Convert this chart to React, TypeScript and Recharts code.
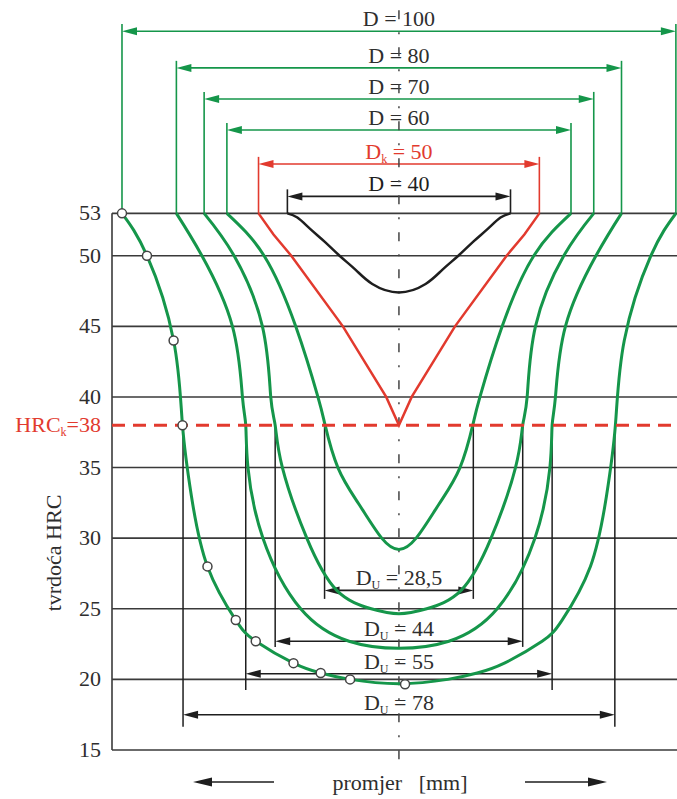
import React from "react";
import {
  ComposedChart,
  Line,
  Scatter,
  XAxis,
  YAxis,
  ReferenceLine,
} from "recharts";

// x = udaljenost od osi [mm], y = tvrdoća HRC
const curveD100: [number, number][] = [
  [-49.9, 53], [-45.4, 50], [-40.6, 44], [-39.0, 38], [-37.4, 33], [-34.5, 28],
  [-29.4, 24.2], [-25.8, 22.7], [-19.0, 21.15], [-14.1, 20.45], [-8.8, 20.0], [0, 19.7],
  [8.8, 20.0], [14.1, 20.45], [19.0, 21.15], [25.8, 22.7], [29.4, 24.2],
  [34.5, 28], [37.4, 33], [39.0, 38], [40.6, 44], [45.4, 50], [49.9, 53],
];
const curveD80: [number, number][] = [
  [-40.1, 53], [-35.5, 50], [-30.0, 45], [-28.2, 40], [-27.6, 38], [-27.2, 35],
  [-24.5, 30], [-17.7, 25], [-9.0, 22.7], [0, 22.2],
  [9.0, 22.7], [17.7, 25], [24.5, 30], [27.2, 35], [27.6, 38], [28.2, 40],
  [30.0, 45], [35.5, 50], [40.1, 53],
];
const curveD70: [number, number][] = [
  [-35.1, 53], [-29.7, 50], [-24.6, 45], [-23.1, 40], [-22.3, 38], [-21.0, 35],
  [-16.6, 30], [-11.2, 26.3], [-5.0, 25], [0, 24.65],
  [5.0, 25], [11.2, 26.3], [16.6, 30], [21.0, 35], [22.3, 38], [23.1, 40],
  [24.6, 45], [29.7, 50], [35.1, 53],
];
const curveD60: [number, number][] = [
  [-31.0, 53], [-24.3, 50], [-18.6, 45], [-14.6, 40], [-13.3, 38], [-11.0, 35],
  [-7.2, 32.4], [-3.1, 30], [0, 29.2],
  [3.1, 30], [7.2, 32.4], [11.0, 35], [13.3, 38], [14.6, 40], [18.6, 45],
  [24.3, 50], [31.0, 53],
];
const curveD50: [number, number][] = [
  [-25.3, 53], [-22.6, 51.5], [-19.4, 50], [-10.1, 45], [-2.3, 40], [0, 38],
  [2.3, 40], [10.1, 45], [19.4, 50], [22.6, 51.5], [25.3, 53],
];
const curveD40: [number, number][] = [
  [-20.1, 53], [-18.3, 52.7], [-16.0, 51.9], [-13.4, 51.0], [-10.7, 50], [-7.8, 49.0],
  [-4.8, 48.0], [0, 47.4],
  [4.8, 48.0], [7.8, 49.0], [10.7, 50], [13.4, 51.0], [16.0, 51.9], [18.3, 52.7], [20.1, 53],
];
// izmjerene točke (D = 100)
const measured: [number, number][] = [
  [-49.9, 53], [-45.4, 50], [-40.6, 44], [-39.0, 38], [-34.5, 28], [-29.4, 24.2],
  [-25.8, 22.7], [-19.0, 21.15], [-14.1, 20.45], [-8.8, 20.0], [1.1, 19.65],
];

const diameters = ["100", "80", "70", "60", "50", "40"];
const halfWidths = [49.9, 40.1, 35.1, 31.0, 25.3, 20.1];
const duLabels = ["28,5", "44", "55", "78"];
const duHalf = [13.4, 22.3, 27.6, 38.9];

const yTicks = [15, 20, 25, 30, 35, 38, 40, 45, 50, 53];
const gridValues = [15, 20, 25, 30, 35, 40, 45, 50, 53];
const HRC_K = 38;

// layout of the dimension lines (in axis units)
const dimLevel = [65.9, 63.3, 61.1, 58.9, 56.5, 54.2];
const duLevel = [26.3, 22.7, 20.4, 17.5];
const duBottom = [25.7, 22.3, 19.25, 16.65];

const GREEN = "#15964a";
const RED = "#e23a2e";
const BLACK = "#1e1e1e";
const GRID = "#3a3a3a";
const TEXT = "#2e2e2e";
const FONT = "'Liberation Serif', 'Times New Roman', serif";
const dimColors = [GREEN, GREEN, GREEN, GREEN, RED, BLACK];

const pts = (arr: [number, number][]) => arr.map(([x, y]) => ({ x, y }));

const subLabel = (sub: string, rest: string) => (
  <>
    D
    <tspan fontSize={12} dy={4}>
      {sub}
    </tspan>
    <tspan dy={-4}>{rest}</tspan>
  </>
);

const arrowShape =
  (color: string, textColor: string, text: React.ReactNode) => (p: any) => {
    const { x1, y1, x2 } = p;
    const y = y1;
    const L = 15;
    const H = 4;
    const left = Math.min(x1, x2);
    const right = Math.max(x1, x2);
    return (
      <g>
        <line x1={left + L - 1} y1={y} x2={right - L + 1} y2={y} stroke={color} strokeWidth={1.6} />
        <polygon points={`${left},${y} ${left + L},${y - H} ${left + L},${y + H}`} fill={color} />
        <polygon points={`${right},${y} ${right - L},${y - H} ${right - L},${y + H}`} fill={color} />
        <text
          x={(left + right) / 2}
          y={y - 5}
          textAnchor="middle"
          fontFamily={FONT}
          fontSize={22}
          fill={textColor}
        >
          {text}
        </text>
      </g>
    );
  };

const YTick = (p: any) => {
  const v = p.payload.value;
  if (v === HRC_K) {
    return (
      <text x={101} y={p.y} dy={7} textAnchor="end" fontFamily={FONT} fontSize={22} fill={RED}>
        HRC
        <tspan fontSize={12} dy={4}>
          k
        </tspan>
        <tspan dy={-4}>={HRC_K}</tspan>
      </text>
    );
  }
  return (
    <text x={101} y={p.y} dy={7} textAnchor="end" fontFamily={FONT} fontSize={22} fill={TEXT}>
      {v}
    </text>
  );
};

const YTitle = () => (
  <text
    x={53}
    y={553}
    transform="rotate(-90, 53, 553)"
    textAnchor="middle"
    dominantBaseline="central"
    fontFamily={FONT}
    fontSize={22}
    fill={TEXT}
  >
    tvrdoća HRC
  </text>
);

const XTitle = () => (
  <g>
    <text x={400} y={790} textAnchor="middle" fontFamily={FONT} fontSize={22} fill={TEXT} xmlSpace="preserve">
      promjer   [mm]
    </text>
    <line x1={210} y1={782} x2={274} y2={782} stroke={BLACK} strokeWidth={1.6} />
    <polygon points="193,782 212,777.5 212,786.5" fill={BLACK} />
    <line x1={525} y1={782} x2={590} y2={782} stroke={BLACK} strokeWidth={1.6} />
    <polygon points="607,782 588,777.5 588,786.5" fill={BLACK} />
  </g>
);

export default function App() {
  return (
    <div style={{ position: "absolute", left: 0, top: 0, background: "#fff" }}>
      <ComposedChart width={677} height={799} margin={{ top: 10, right: 0, bottom: 0, left: 52 }}>
        <XAxis
          type="number"
          dataKey="x"
          domain={[-51.7, 50.1]}
          height={49}
          tick={false}
          axisLine={false}
          tickLine={false}
          label={<XTitle />}
        />
        <YAxis
          type="number"
          domain={[15, 67.4]}
          ticks={yTicks}
          interval={0}
          width={60}
          axisLine={false}
          tickLine={false}
          tick={<YTick />}
          label={<YTitle />}
        />

        {gridValues.map((v) => (
          <ReferenceLine key={`g${v}`} y={v} stroke={GRID} strokeWidth={1.6} />
        ))}
        <ReferenceLine
          segment={[{ x: -51.7, y: 15 }, { x: -51.7, y: 53 }]}
          stroke={GRID}
          strokeWidth={1.6}
          ifOverflow="visible"
        />

        {/* vertikale do kritične tvrdoće i mjere D_U */}
        {duHalf.map((h, i) => (
          <ReferenceLine
            key={`duvl${i}`}
            segment={[{ x: -h, y: HRC_K }, { x: -h, y: duBottom[i] }]}
            stroke={BLACK}
            strokeWidth={1.5}
          />
        ))}
        {duHalf.map((h, i) => (
          <ReferenceLine
            key={`duvr${i}`}
            segment={[{ x: h, y: HRC_K }, { x: h, y: duBottom[i] }]}
            stroke={BLACK}
            strokeWidth={1.5}
          />
        ))}
        {duHalf.map((h, i) => (
          <ReferenceLine
            key={`du${i}`}
            segment={[{ x: -h, y: duLevel[i] }, { x: h, y: duLevel[i] }]}
            shape={arrowShape(BLACK, TEXT, subLabel("U", ` = ${duLabels[i]}`))}
          />
        ))}

        {/* mjere promjera iznad dijagrama */}
        {halfWidths.map((h, i) => (
          <ReferenceLine
            key={`extl${i}`}
            segment={[{ x: -h, y: 53 }, { x: -h, y: dimLevel[i] + 0.5 }]}
            stroke={dimColors[i]}
            strokeWidth={1.6}
          />
        ))}
        {halfWidths.map((h, i) => (
          <ReferenceLine
            key={`extr${i}`}
            segment={[{ x: h, y: 53 }, { x: h, y: dimLevel[i] + 0.5 }]}
            stroke={dimColors[i]}
            strokeWidth={1.6}
          />
        ))}
        {halfWidths.map((h, i) => (
          <ReferenceLine
            key={`dim${i}`}
            segment={[{ x: -h, y: dimLevel[i] }, { x: h, y: dimLevel[i] }]}
            shape={arrowShape(
              dimColors[i],
              i === 4 ? RED : i === 5 ? BLACK : TEXT,
              i === 4 ? subLabel("k", ` = ${diameters[i]}`) : `D = ${diameters[i]}`
            )}
          />
        ))}

        <ReferenceLine
          segment={[{ x: 0, y: 14.35 }, { x: 0, y: 67.4 }]}
          stroke="#444"
          strokeWidth={1.5}
          strokeDasharray="9 13 2 13"
          ifOverflow="visible"
        />

        <Line data={pts(curveD40)} dataKey="y" type="natural" stroke={BLACK} strokeWidth={2.5} dot={false} activeDot={false} isAnimationActive={false} />
        <Line data={pts(curveD50)} dataKey="y" type="linear" stroke={RED} strokeWidth={2.5} dot={false} activeDot={false} isAnimationActive={false} />
        <Line data={pts(curveD60)} dataKey="y" type="natural" stroke={GREEN} strokeWidth={3} dot={false} activeDot={false} isAnimationActive={false} />
        <Line data={pts(curveD70)} dataKey="y" type="natural" stroke={GREEN} strokeWidth={3} dot={false} activeDot={false} isAnimationActive={false} />
        <Line data={pts(curveD80)} dataKey="y" type="natural" stroke={GREEN} strokeWidth={3} dot={false} activeDot={false} isAnimationActive={false} />
        <Line data={pts(curveD100)} dataKey="y" type="natural" stroke={GREEN} strokeWidth={3} dot={false} activeDot={false} isAnimationActive={false} />

        <ReferenceLine y={HRC_K} stroke={RED} strokeWidth={3} strokeDasharray="13 8" />

        <Scatter
          data={pts(measured)}
          dataKey="y"
          isAnimationActive={false}
          shape={(p: any) => (
            <circle cx={p.cx} cy={p.cy} r={4.5} fill="#fff" stroke="#444" strokeWidth={1.5} />
          )}
        />
      </ComposedChart>
    </div>
  );
}
